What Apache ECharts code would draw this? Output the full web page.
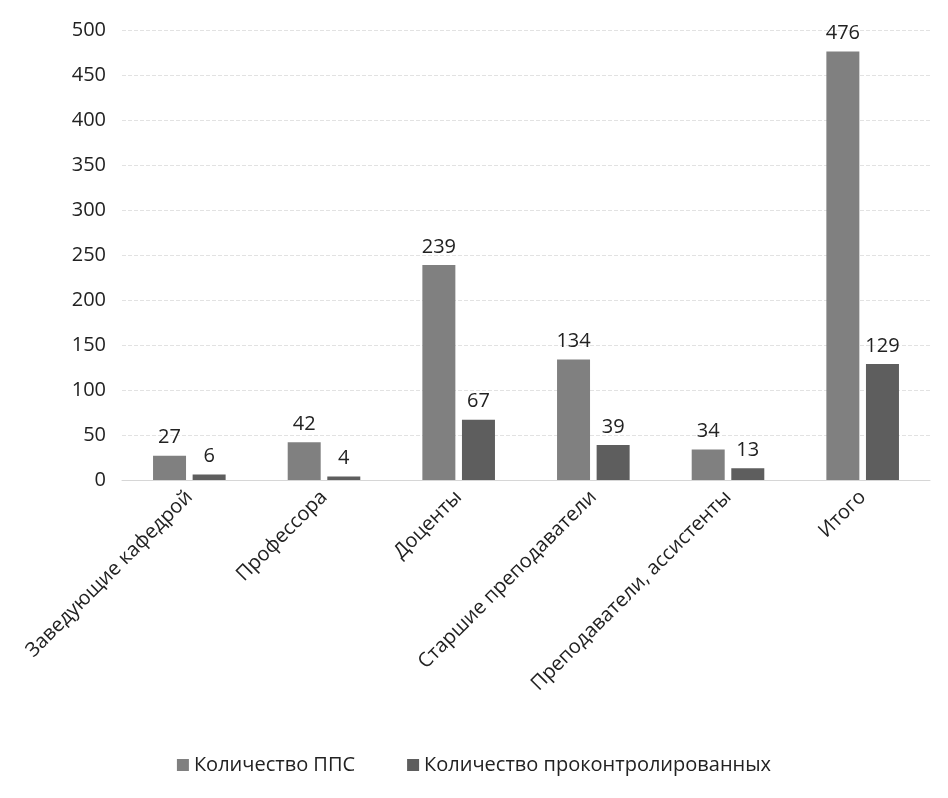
<!DOCTYPE html>
<html><head><meta charset="utf-8">
<script src="https://cdn.jsdelivr.net/npm/echarts@6/dist/echarts.min.js"></script>
<style>html,body{margin:0;padding:0;background:#fff}#c{width:948px;height:798px}</style>
</head><body><div id="c"></div>
<script>
var categories = ['Заведующие кафедрой','Профессора','Доценты','Старшие преподаватели','Преподаватели, ассистенты','Итого'];
var seriesNames = ['Количество ППС','Количество проконтролированных'];
var ppsValues = [27, 42, 239, 134, 34, 476];
var controlledValues = [6, 4, 67, 39, 13, 129];
var yTicks = {min: 0, max: 500, interval: 50};

var font = '"Open Sans", "Noto Sans", sans-serif';
var chart = echarts.init(document.getElementById('c'));
chart.setOption({
  animation: false,
  textStyle: {fontFamily: font},
  grid: {left: 122, right: 18, top: 30, bottom: 318, containLabel: false},
  legend: {
    bottom: 18, left: 'center', itemWidth: 12, itemHeight: 12, itemGap: 52,
    icon: 'rect',
    textStyle: {fontSize: 20, color: '#222', fontFamily: font},
    data: seriesNames
  },
  xAxis: {
    type: 'category', data: categories,
    axisLine: {show: true, lineStyle: {color: '#d6d6d6'}},
    axisTick: {show: false},
    axisLabel: {rotate: 45, fontSize: 20, color: '#222', interval: 0, margin: 14}
  },
  yAxis: {
    type: 'value', min: yTicks.min, max: yTicks.max, interval: yTicks.interval,
    axisLine: {show: false}, axisTick: {show: false},
    axisLabel: {fontSize: 20, color: '#222', margin: 16},
    splitLine: {lineStyle: {color: '#e2e2e2', type: 'dashed'}}
  },
  series: [
    {name: seriesNames[0], type: 'bar', data: ppsValues, barWidth: 33, barGap: '20%',
     itemStyle: {color: '#808080'},
     label: {show: true, position: 'top', fontSize: 20, color: '#222', distance: 8}},
    {name: seriesNames[1], type: 'bar', data: controlledValues, barWidth: 33,
     itemStyle: {color: '#5e5e5e'},
     label: {show: true, position: 'top', fontSize: 20, color: '#222', distance: 8}}
  ]
});
</script></body></html>
